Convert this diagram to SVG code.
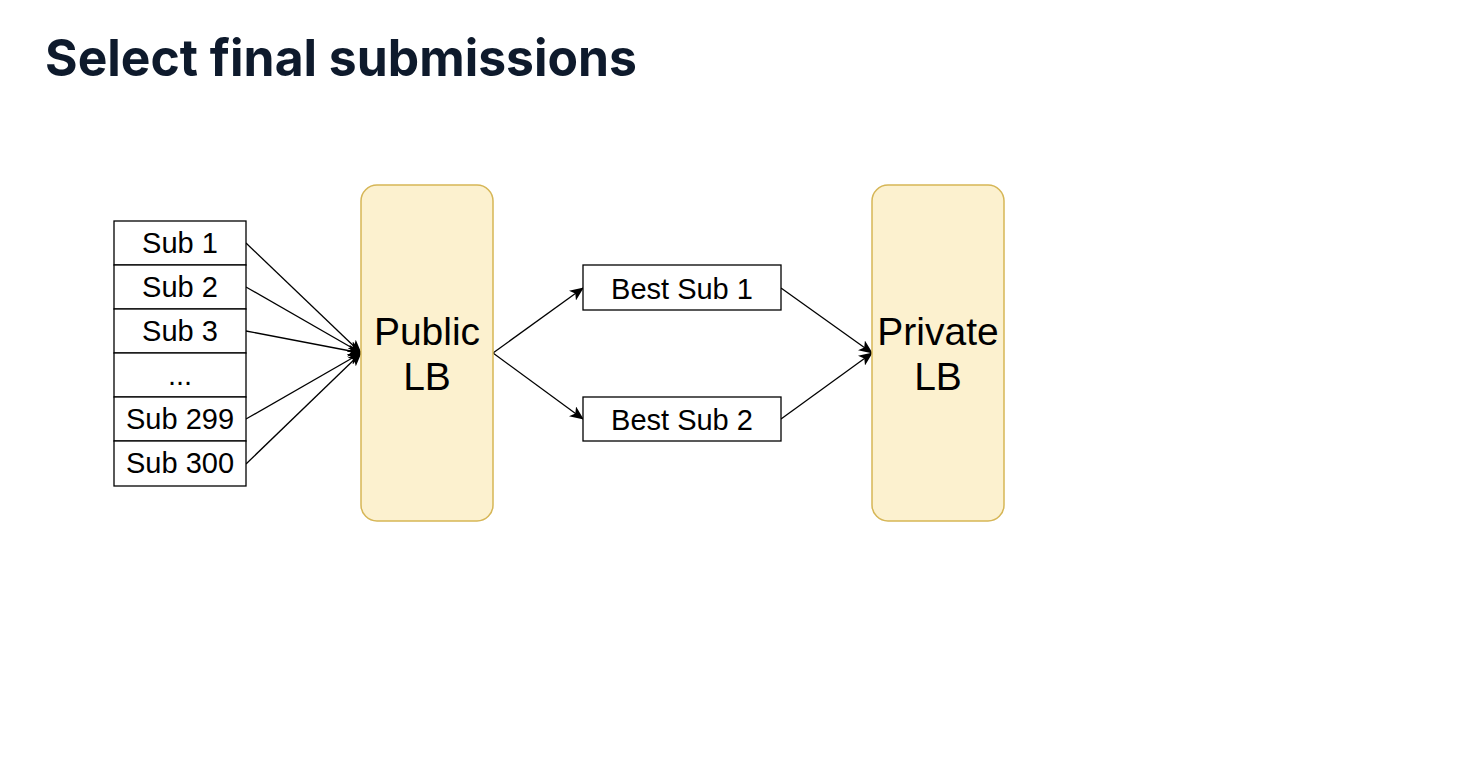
<svg xmlns="http://www.w3.org/2000/svg" width="1480" height="760" viewBox="0 0 1480 760">
<style>
.sub{fill:#ffffff;stroke:#000000;stroke-width:1.3}
.lb{fill:#fcf1cf;stroke:#d6b656;stroke-width:1.5}
.t{font-family:"Liberation Sans",Arial,sans-serif;fill:#000000;text-anchor:middle}
.ts{font-size:29px}
.tl{font-size:39px}
.c{fill:none;stroke:#000000;stroke-width:1.3;marker-end:url(#ah)}
</style>
<defs>
<marker id="ah" markerWidth="14" markerHeight="12" refX="13" refY="6" orient="auto" markerUnits="userSpaceOnUse">
<path d="M0,0 L14,6 L0,12 L3.5,6 Z" fill="#000000"/>
</marker>
</defs>
<rect width="1480" height="760" fill="#ffffff"/>
<text x="45" y="76" font-family="Inter,'Liberation Sans',Arial,sans-serif" font-weight="700" font-size="51" fill="#0e1a2c" textLength="592" lengthAdjust="spacingAndGlyphs">Select final submissions</text>

<g id="connectors">
<line class="c" x1="246" y1="243" x2="361" y2="353"/>
<line class="c" x1="246" y1="287" x2="361" y2="353"/>
<line class="c" x1="246" y1="331" x2="361" y2="353"/>
<line class="c" x1="246" y1="419" x2="361" y2="353"/>
<line class="c" x1="246" y1="464" x2="361" y2="353"/>
<line class="c" x1="493" y1="353" x2="583" y2="288"/>
<line class="c" x1="493" y1="353" x2="583" y2="419"/>
<line class="c" x1="781" y1="288" x2="872" y2="353"/>
<line class="c" x1="781" y1="419" x2="872" y2="353"/>
</g>

<g id="sub1"><rect class="sub" x="114" y="221" width="132" height="44"/><text class="t ts" x="180" y="253">Sub 1</text></g>
<g id="sub2"><rect class="sub" x="114" y="265" width="132" height="44"/><text class="t ts" x="180" y="297">Sub 2</text></g>
<g id="sub3"><rect class="sub" x="114" y="309" width="132" height="44"/><text class="t ts" x="180" y="341">Sub 3</text></g>
<g id="subdots"><rect class="sub" x="114" y="353" width="132" height="44"/><text class="t ts" x="180" y="385">...</text></g>
<g id="sub299"><rect class="sub" x="114" y="397" width="132" height="44"/><text class="t ts" x="180" y="429">Sub 299</text></g>
<g id="sub300"><rect class="sub" x="114" y="441" width="132" height="45"/><text class="t ts" x="180" y="473">Sub 300</text></g>

<g id="publicLB"><rect class="lb" x="361" y="185" width="132" height="336" rx="16" ry="16"/><text class="t tl" x="427" y="345">Public</text><text class="t tl" x="427" y="390">LB</text></g>

<g id="best1"><rect class="sub" x="583" y="265" width="198" height="45"/><text class="t ts" x="682" y="299">Best Sub 1</text></g>
<g id="best2"><rect class="sub" x="583" y="397" width="198" height="44"/><text class="t ts" x="682" y="430">Best Sub 2</text></g>

<g id="privateLB"><rect class="lb" x="872" y="185" width="132" height="336" rx="16" ry="16"/><text class="t tl" x="938" y="345">Private</text><text class="t tl" x="938" y="390">LB</text></g>
</svg>
